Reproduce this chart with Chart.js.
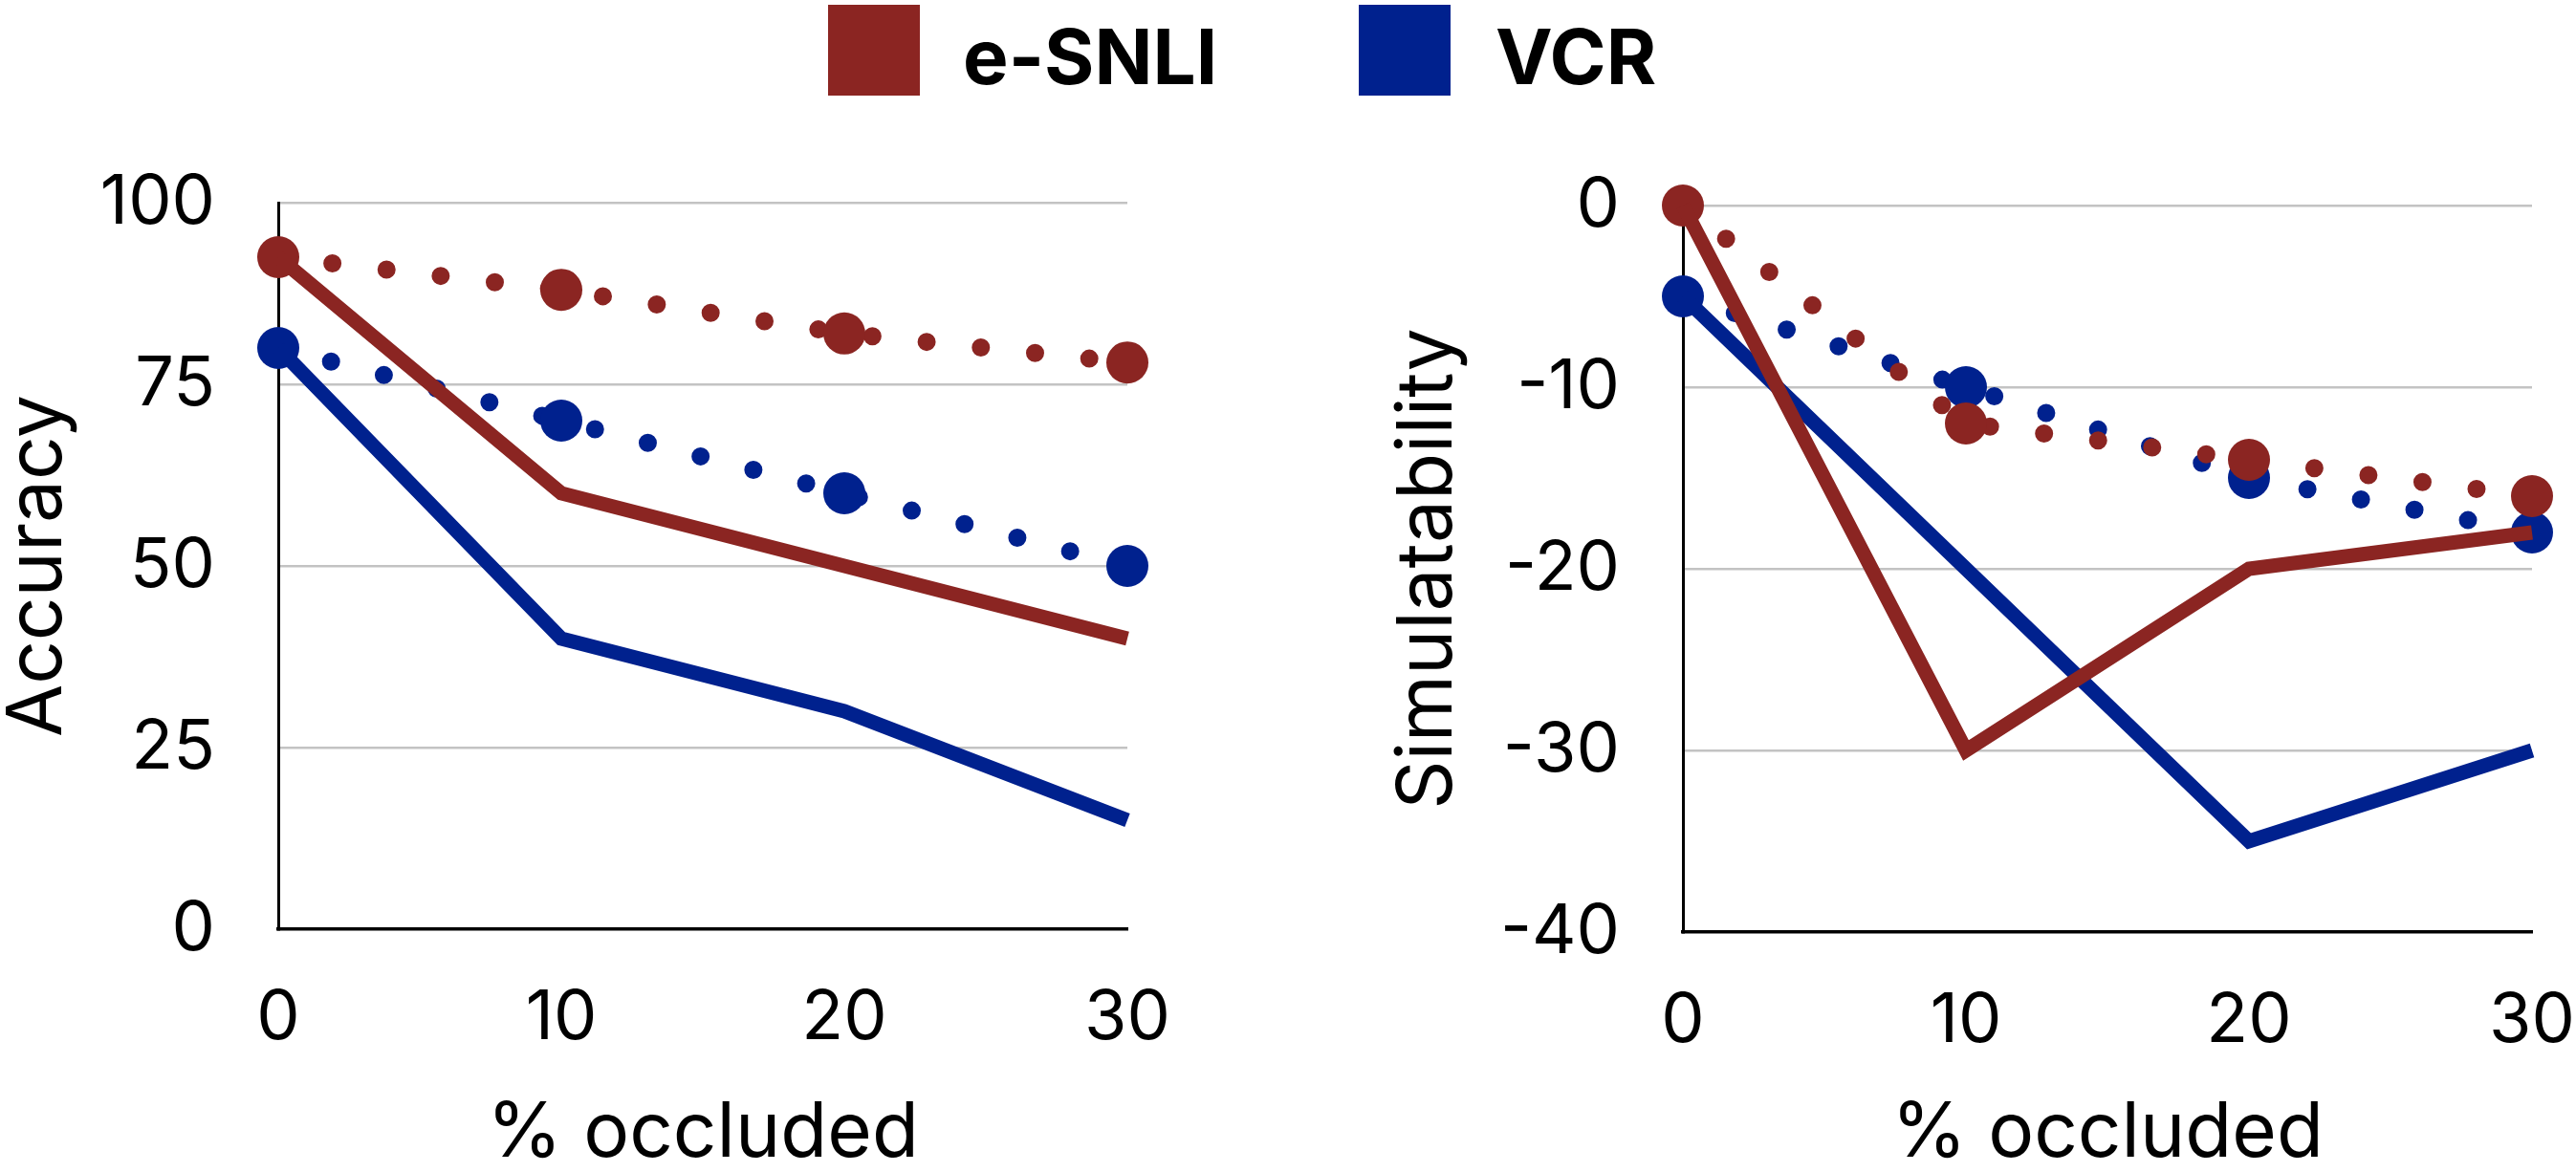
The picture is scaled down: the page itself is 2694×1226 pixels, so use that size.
<!DOCTYPE html>
<html>
<head>
<meta charset="utf-8">
<script src="https://cdn.jsdelivr.net/npm/chart.js@4.4.1/dist/chart.umd.min.js"></script>
<style>
  body { margin: 0; background: #fff; width: 2694px; height: 1226px; position: relative; overflow: hidden; font-family: Inter, sans-serif; }
  .box { position: absolute; top: 5px; width: 96px; height: 95px; }
  .lbl { position: absolute; top: 19px; font-size: 80px; font-weight: 700; line-height: 1; color: #000; white-space: nowrap; }
  .wrap { position: absolute; top: 150px; height: 1076px; }
</style>
</head>
<body>
<div class="box" style="left:866px; background:#8b2522"></div>
<div class="lbl" style="left:1007px">e-SNLI</div>
<div class="box" style="left:1421px; background:#00218e"></div>
<div class="lbl" style="left:1564px">VCR</div>

<div class="wrap" style="left:0; width:1250px"><canvas id="acc"></canvas></div>
<div class="wrap" style="left:1400px; width:1294px"><canvas id="sim"></canvas></div>

<script>
var occluded = [0, 10, 20, 30];

// Accuracy panel
var accSnliLine = [92.5, 60, 50, 40];
var accVcrLine = [80, 40, 30, 15];
var accSnliDots = [92.5, 88, 82, 78];
var accVcrDots = [80, 70, 60, 50];

// Simulatability panel
var simSnliLine = [0, -30, -20, -18];
var simVcrLine = [-5, -20, -35, -30];
var simSnliDots = [0, -12, -14, -16];
var simVcrDots = [-5, -10, -15, -18];

var red = '#8b2522';
var blue = '#00218e';
var gridGray = '#c3c3c3';

Chart.defaults.font.family = 'Inter, sans-serif';
Chart.defaults.color = '#000';

// pair x values with y values
function points(values) {
    var out = [];
    for (var i = 0; i < values.length; i++) out.push({ x: occluded[i], y: values[i] });
    return out;
}

function solid(values, color) {
    return {
        data: points(values),
        borderColor: color,
        borderWidth: 15,
        pointRadius: 0,
        clip: false
    };
}

function dotted(values, color) {
    return {
        data: points(values),
        borderColor: color,
        backgroundColor: color,
        borderWidth: 19,
        borderDash: [0, 57],
        borderCapStyle: 'round',
        pointRadius: 22,
        pointBorderWidth: 0,
        pointBackgroundColor: color,
        clip: false
    };
}

function makeChart(id, sets, yMin, yMax, yStep, title, box) {
    var ctx = document.getElementById(id).getContext('2d');
    return new Chart(ctx, {
        type: 'line',
        data: {
            // first dataset ends up on top
            datasets: [
                solid(sets[0], red),
                solid(sets[1], blue),
                dotted(sets[2], red),
                dotted(sets[3], blue)
            ]
        },
        options: {
            responsive: true,
            maintainAspectRatio: false,
            animation: false,
            layout: { padding: box.padding },
            plugins: { legend: { display: false }, tooltip: { enabled: false } },
            scales: {
                x: {
                    type: 'linear',
                    min: 0,
                    max: 30,
                    // fixed height, no extra room for label overhang
                    afterFit: function (s) { s.height = box.xHeight; s.paddingLeft = 0; s.paddingRight = 0; },
                    ticks: { stepSize: 10, padding: 50, font: { size: 72 } },
                    grid: { display: false, drawTicks: false },
                    border: { display: true, color: '#000', width: 3.5 },
                    title: { display: true, text: '% occluded', font: { size: 80, lineHeight: 1 }, padding: 0 }
                },
                y: {
                    min: yMin,
                    max: yMax,
                    afterFit: function (s) { s.width = box.yWidth; s.paddingTop = 0; s.paddingBottom = 0; },
                    ticks: { stepSize: yStep, padding: 66, font: { size: 72 } },
                    grid: {
                        drawTicks: false,
                        lineWidth: 2.5,
                        color: function (c) { return c.tick && c.tick.value === yMin ? 'rgba(0,0,0,0)' : gridGray; }
                    },
                    border: { display: true, color: '#000', width: 3 },
                    title: { display: true, text: title, font: { size: 80, lineHeight: 1 }, padding: 0 }
                }
            }
        }
    });
}

makeChart('acc', [accSnliLine, accVcrLine, accSnliDots, accVcrDots], 0, 100, 25, 'Accuracy',
    { padding: { left: 0, right: 71, top: 62, bottom: 0 }, yWidth: 291, xHeight: 254 });

makeChart('sim', [simSnliLine, simVcrLine, simSnliDots, simVcrDots], -40, 0, 10, 'Simulatability',
    { padding: { left: 54, right: 46, top: 65, bottom: 0 }, yWidth: 306, xHeight: 251 });
</script>
</body>
</html>
